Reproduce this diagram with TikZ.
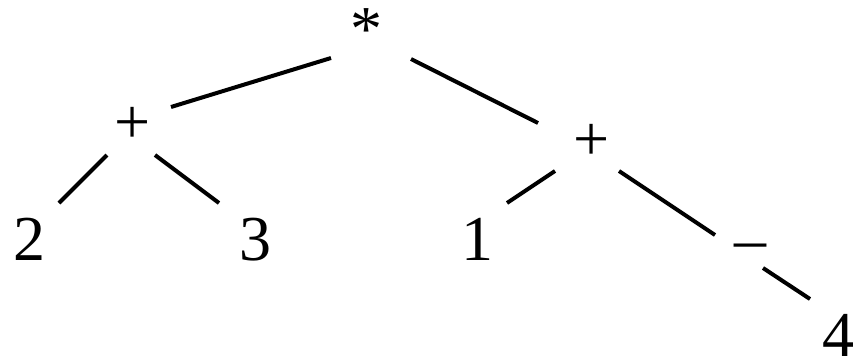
\documentclass[tikz,border=0pt]{standalone}
\usepackage{fontspec}
\setmainfont{Liberation Serif}
\usepackage{tikz}

\begin{document}
\begin{tikzpicture}[
    x=1pt, y=-1pt,
    sym/.style={font=\fontsize{64}{72}\selectfont, anchor=base, inner sep=0pt},
    branch/.style={line width=4pt, black},
]
    \useasboundingbox (0,0) rectangle (855,364);

    % root
    \node[sym] (mul) at (366,50) {*};

    % left subtree
    \node[sym] (addL) at (133,143) {+};
    \node[sym] (two) at (29,260) {2};
    \node[sym] (three) at (255,260) {3};

    % right subtree
    \node[sym] (addR) at (592,160) {+};
    \node[sym] (one) at (477,260) {1};
    \node[sym] (neg) at (750,260) {–};
    \node[sym] (four) at (838,356) {4};

    % branches
    \draw[branch] ([shift={(-35,8)}]mul.base) -- ([shift={(38,-36)}]addL.base);
    \draw[branch] ([shift={(45,9)}]mul.base) -- ([shift={(-54,-37)}]addR.base);
    \draw[branch] ([shift={(-26,12)}]addL.base) -- ([shift={(30,-57)}]two.base);
    \draw[branch] ([shift={(22,12)}]addL.base) -- ([shift={(-36,-57)}]three.base);
    \draw[branch] ([shift={(-37,11)}]addR.base) -- ([shift={(30,-57)}]one.base);
    \draw[branch] ([shift={(27,11)}]addR.base) -- ([shift={(-35,-25)}]neg.base);
    \draw[branch] ([shift={(13,8)}]neg.base) -- ([shift={(-28,-57)}]four.base);
\end{tikzpicture}
\end{document}
